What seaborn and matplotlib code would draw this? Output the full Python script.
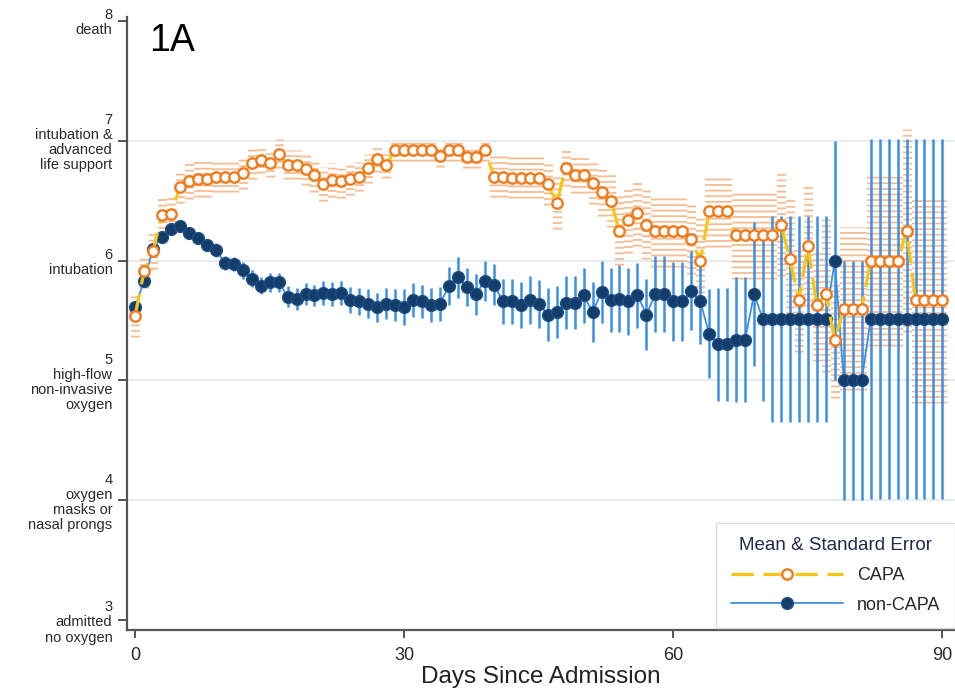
import seaborn as sns
import matplotlib.pyplot as plt
import numpy as np


days = list(range(91))

capa_mean = [5.54, 5.91, 6.08, 6.38, 6.39, 6.61, 6.66, 6.68, 6.68, 6.70,
             6.70, 6.70, 6.73, 6.81, 6.84, 6.81, 6.89, 6.80, 6.80, 6.76,
             6.71, 6.64, 6.67, 6.66, 6.68, 6.70, 6.77, 6.85, 6.80, 6.92,
             6.92, 6.92, 6.92, 6.92, 6.87, 6.92, 6.92, 6.86, 6.86, 6.92,
             6.70, 6.70, 6.69, 6.69, 6.69, 6.69, 6.64, 6.48, 6.77, 6.71,
             6.71, 6.65, 6.57, 6.50, 6.25, 6.34, 6.40, 6.30, 6.25, 6.25,
             6.25, 6.25, 6.18, 6.00, 6.41, 6.41, 6.41, 6.21, 6.21, 6.21,
             6.21, 6.21, 6.30, 6.01, 5.67, 6.12, 5.63, 5.72, 5.34, 5.60,
             5.60, 5.60, 6.00, 6.00, 6.00, 6.00, 6.25, 5.67, 5.67, 5.67,
             5.67]
capa_se = [0.18, 0.14, 0.15, 0.16, 0.16, 0.13, 0.15, 0.15, 0.15, 0.13,
           0.13, 0.13, 0.13, 0.13, 0.11, 0.11, 0.12, 0.12, 0.12, 0.13,
           0.14, 0.14, 0.14, 0.14, 0.13, 0.12, 0.12, 0.11, 0.11, 0.09,
           0.09, 0.09, 0.09, 0.09, 0.09, 0.09, 0.09, 0.09, 0.09, 0.09,
           0.17, 0.17, 0.17, 0.17, 0.17, 0.17, 0.18, 0.22, 0.15, 0.15,
           0.15, 0.18, 0.20, 0.22, 0.29, 0.28, 0.28, 0.29, 0.30, 0.30,
           0.30, 0.30, 0.29, 0.36, 0.30, 0.30, 0.30, 0.36, 0.36, 0.36,
           0.36, 0.36, 0.43, 0.50, 0.43, 0.50, 0.47, 0.65, 0.49, 0.68,
           0.68, 0.68, 0.71, 0.71, 0.71, 0.71, 0.85, 0.86, 0.86, 0.86,
           0.86]

noncapa_mean = [5.61, 5.83, 6.10, 6.20, 6.26, 6.29, 6.23, 6.19, 6.13, 6.09,
                5.98, 5.97, 5.92, 5.85, 5.79, 5.82, 5.82, 5.70, 5.68, 5.72,
                5.71, 5.73, 5.72, 5.73, 5.67, 5.66, 5.64, 5.61, 5.64, 5.63,
                5.61, 5.67, 5.66, 5.63, 5.64, 5.79, 5.86, 5.78, 5.72, 5.83,
                5.80, 5.66, 5.66, 5.63, 5.67, 5.64, 5.55, 5.57, 5.65, 5.65,
                5.71, 5.57, 5.74, 5.67, 5.68, 5.66, 5.71, 5.55, 5.72, 5.72,
                5.66, 5.66, 5.75, 5.66, 5.39, 5.30, 5.30, 5.34, 5.34, 5.72,
                5.51, 5.51, 5.51, 5.51, 5.51, 5.51, 5.51, 5.51, 6.00, 5.00,
                5.00, 5.00, 5.51, 5.51, 5.51, 5.51, 5.51, 5.51, 5.51, 5.51,
                5.51]
noncapa_se = [0.04, 0.04, 0.04, 0.04, 0.04, 0.04, 0.05, 0.05, 0.05, 0.06,
              0.06, 0.06, 0.07, 0.07, 0.07, 0.08, 0.08, 0.09, 0.09, 0.09,
              0.09, 0.10, 0.10, 0.10, 0.11, 0.11, 0.12, 0.12, 0.13, 0.13,
              0.15, 0.14, 0.14, 0.14, 0.14, 0.16, 0.17, 0.16, 0.17, 0.17,
              0.17, 0.19, 0.19, 0.19, 0.20, 0.20, 0.22, 0.22, 0.22, 0.22,
              0.23, 0.25, 0.26, 0.27, 0.28, 0.28, 0.27, 0.30, 0.32, 0.32,
              0.33, 0.33, 0.33, 0.36, 0.37, 0.47, 0.47, 0.52, 0.52, 0.60,
              0.68, 0.86, 0.86, 0.86, 0.86, 0.86, 0.86, 0.86, 1.00, 1.00,
              1.00, 1.00, 1.50, 1.50, 1.50, 1.50, 1.50, 1.50, 1.50, 1.50,
              1.50]

levels = [3, 4, 5, 6, 7, 8]
level_labels = ["3\nadmitted\nno oxygen",
                "4\noxygen\nmasks or\nnasal prongs",
                "5\nhigh-flow\nnon-invasive\noxygen",
                "6\nintubation",
                "7\nintubation &\nadvanced\nlife support",
                "8\ndeath"]
grid_levels = [4, 5, 6, 7]
day_ticks = [0, 30, 60, 90]

sns.set_theme(style="white")
plt.rcParams['font.family'] = ['Liberation Sans', 'DejaVu Sans']

fig = plt.figure(figsize=(9.55, 6.98), dpi=100)
ax = fig.add_axes([127 / 955, 68 / 698, 828 / 955, 613 / 698])

for lv in grid_levels:
    ax.axhline(lv, color="#e3e9ec", lw=1.2, zorder=0)

# standard error bars
eb_capa = ax.errorbar(days, capa_mean, yerr=capa_se, fmt="none",
                      ecolor="#f4a66e", elinewidth=6.5, alpha=0.75, zorder=1)
eb_capa[2][0].set_linestyle((0, (0.2, 0.42)))
eb_capa[2][0].set_capstyle("butt")
ax.errorbar(days, noncapa_mean, yerr=noncapa_se, fmt="none",
            ecolor="#3a8ee6", elinewidth=1.8, zorder=2)

# mean lines
sns.lineplot(x=days, y=noncapa_mean, ax=ax, color="#3b8fe3", lw=1.3,
             marker="o", markersize=8.5, markerfacecolor="#133d6b",
             markeredgecolor="#1d4f86", markeredgewidth=1.0,
             label="non-CAPA", zorder=3)
sns.lineplot(x=days, y=capa_mean, ax=ax, color="#f5c518", lw=2.3,
             linestyle=(0, (7, 3)), marker="o", markersize=7.5,
             markerfacecolor="white", markeredgecolor="#f07b1d",
             markeredgewidth=1.7, label="CAPA", zorder=4)

ax.set_xlim(-0.9, 91.4)
ax.set_ylim(2.92, 8.03)
ax.set_xticks(day_ticks)
ax.set_yticks(levels)
ax.set_yticklabels(level_labels, linespacing=1.1)
ax.tick_params(axis="y", labelsize=10.5, length=6.5, width=1.4,
               color="#555555", labelcolor="#2a2a2a", pad=4, left=True)
ax.tick_params(axis="x", labelsize=13, length=6, width=1.4,
               color="#555555", labelcolor="#2a2a2a", pad=6, bottom=True)
ax.set_xlabel("Days Since Admission", fontsize=17.5, color="#222222",
              labelpad=2)
ax.set_ylabel("")

for side in ["top", "right"]:
    ax.spines[side].set_visible(False)
for side in ["left", "bottom"]:
    ax.spines[side].set_color("#555555")
    ax.spines[side].set_linewidth(1.6)

ax.text(0.027, 0.99, "1A", transform=ax.transAxes, fontsize=27,
        va="top", ha="left", color="black")

handles, labels = ax.get_legend_handles_labels()
order = [labels.index("CAPA"), labels.index("non-CAPA")]
leg = ax.legend([handles[i] for i in order], [labels[i] for i in order],
                title="Mean & Standard Error", loc="lower right",
                bbox_to_anchor=(1.0, 0.003), borderaxespad=0, fontsize=13,
                title_fontsize=13.5, handlelength=6.2, handletextpad=0.8,
                fancybox=False, framealpha=1, edgecolor="#dddddd",
                borderpad=0.8, labelspacing=0.7)
leg.get_title().set_color("#1e2d4f")
leg.get_frame().set_linewidth(1.0)

fig.savefig("out.png", dpi=100)
